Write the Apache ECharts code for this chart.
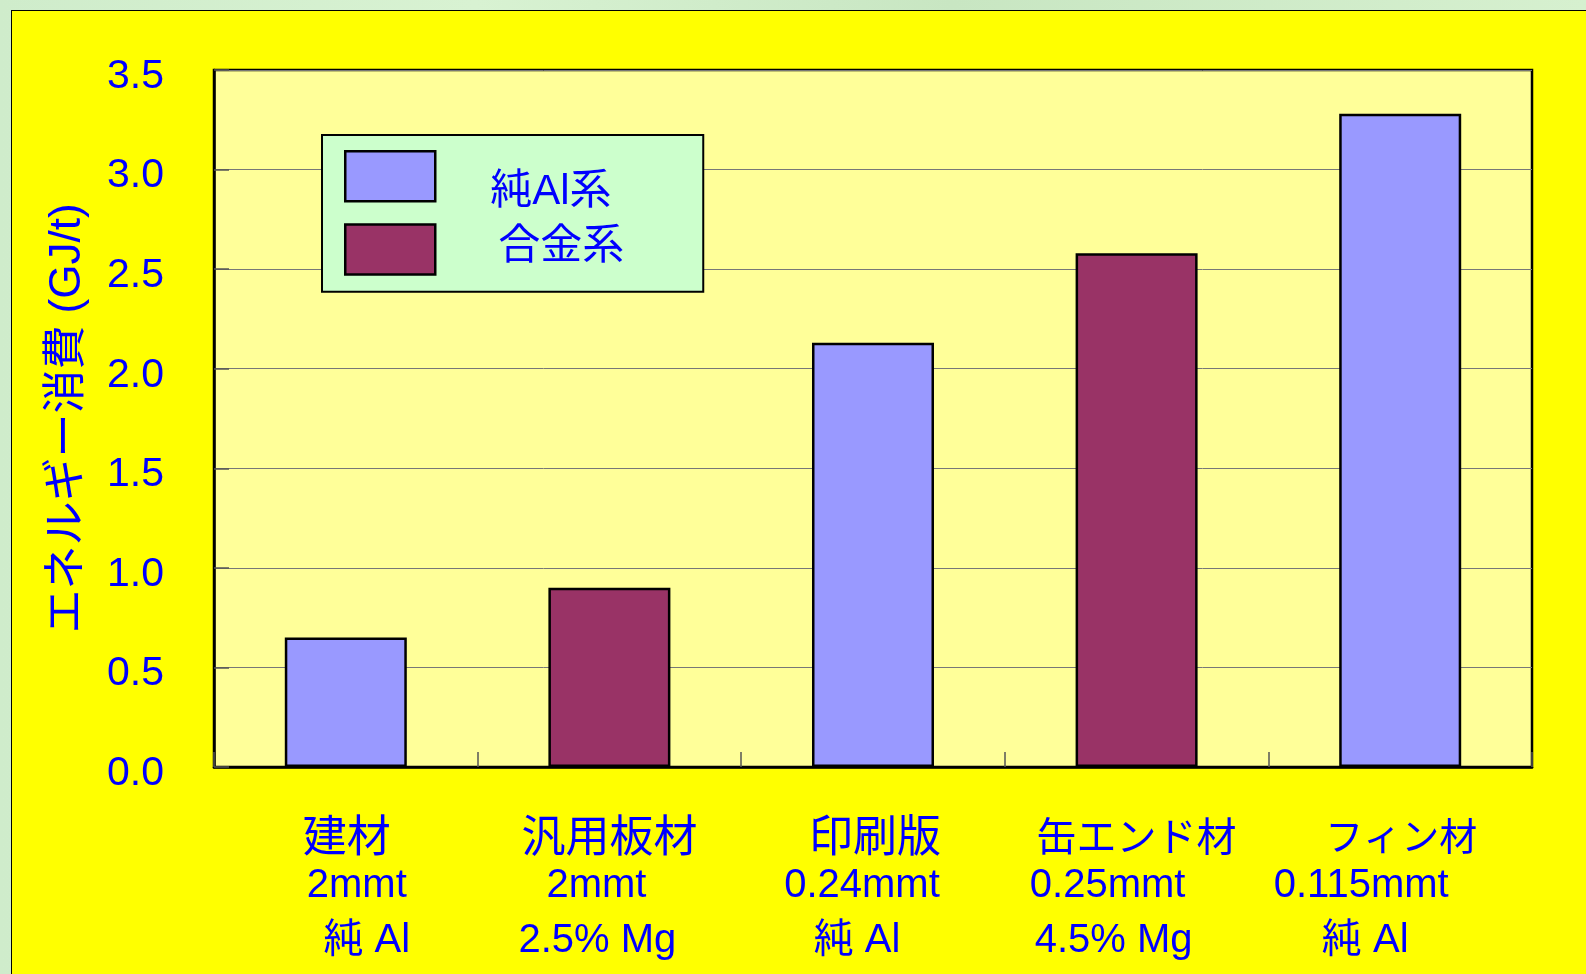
<!DOCTYPE html>
<html>
<head>
<meta charset="utf-8">
<script src="https://cdn.jsdelivr.net/npm/echarts@6/dist/echarts.min.js"></script>
<style>
  html, body { margin: 0; padding: 0; width: 1586px; height: 974px; overflow: hidden; }
  body { background: linear-gradient(90deg, #cfeccb, #d8f2d2 30%, #c8e6c2 60%, #d6f0cf); position: relative; }
  #frame { position: absolute; left: 11px; top: 10px; width: 1575px; height: 964px; background: #FFFF00; border-left: 1px solid #000; border-top: 1px solid #000; box-sizing: border-box; }
  #main { position: absolute; left: 0; top: 0; width: 1586px; height: 974px; }
</style>
</head>
<body>
<div id="frame"></div>
<div id="main"></div>
<script>
// ---- data ----
const categories = ['建材', '汎用板材', '印刷版', '缶エンド材', 'フィン材'];
const thickness = ['2mmt', '2mmt', '0.24mmt', '0.25mmt', '0.115mmt'];
const material = ['純 Al', '2.5% Mg', '純 Al', '4.5% Mg', '純 Al'];
const pureAlValues = [0.65, null, 2.13, null, 3.28];
const alloyValues = [null, 0.90, null, 2.58, null];
const seriesNames = ['純Al系', '合金系'];
const yTicks = [0, 0.5, 1.0, 1.5, 2.0, 2.5, 3.0, 3.5];

// ---- label styling (style only) ----
const lineShift = [[1, 11, 21], [0, -13, -12], [2, -11, -16], [0, -29, -23], [1, -39, -35]];
const firstLineSize = [44, 44, 44, 40, 38];
const lineHeights = [58, 34, 76];

const FONT = "'Liberation Sans', 'Noto Sans CJK JP', sans-serif";
const BLUE = '#0000FF';

const rich = {};
lineShift.forEach((arr, i) => {
  arr.forEach((d, j) => {
    rich['c' + i + 'l' + j] = {
      fontSize: j === 0 ? firstLineSize[i] : 40, fontFamily: FONT, color: BLUE,
      lineHeight: lineHeights[j], align: 'center',
      padding: d >= 0 ? [0, 0, 0, 2 * d] : [0, -2 * d, 0, 0]
    };
  });
});

const legendRich = {
  t0: { fontSize: 42, color: BLUE, fontFamily: FONT, padding: [32, 0, 0, 50] },
  t1: { fontSize: 42, color: BLUE, fontFamily: FONT, padding: [0, 0, 5, 58] }
};

const chart = echarts.init(document.getElementById('main'), null, { renderer: 'canvas' });
chart.setOption({
  backgroundColor: 'transparent',
  animation: false,
  textStyle: { fontFamily: FONT },
  grid: {
    left: 214, top: 70, right: 54, bottom: 207,
    show: true, backgroundColor: '#FFFF99', borderColor: '#000', borderWidth: 2.5,
    containLabel: false
  },
  legend: {
    orient: 'vertical',
    left: 322, top: 135,
    padding: [15, 79, 16, 22],
    backgroundColor: '#CCFFCC',
    borderColor: '#000', borderWidth: 2,
    itemWidth: 90, itemHeight: 50, itemGap: 10,
    icon: 'rect',
    itemStyle: { borderColor: '#000', borderWidth: 2.5 },
    formatter: function (name) {
      return '{t' + seriesNames.indexOf(name) + '|' + name + '}';
    },
    textStyle: { fontSize: 42, color: BLUE, fontFamily: FONT, rich: legendRich },
    data: seriesNames
  },
  xAxis: {
    type: 'category',
    data: categories,
    axisLine: { lineStyle: { color: '#000', width: 2.5 } },
    axisTick: { show: true, inside: true, length: 15, lineStyle: { color: '#555', width: 1.5 } },
    axisLabel: {
      margin: 44,
      interval: 0,
      formatter: function (v, i) {
        return '{c' + i + 'l0|' + categories[i] + '}\n{c' + i + 'l1|' + thickness[i] + '}\n{c' + i + 'l2|' + material[i] + '}';
      },
      rich: rich
    }
  },
  yAxis: {
    type: 'value',
    min: yTicks[0], max: yTicks[yTicks.length - 1], interval: 0.5,
    name: 'エネルギー消費 (GJ/t)',
    nameLocation: 'middle',
    nameGap: 124,
    nameRotate: 90,
    nameTextStyle: { fontSize: 44, color: BLUE, fontFamily: FONT },
    axisLine: { show: true, lineStyle: { color: '#000', width: 2.5 } },
    axisTick: { show: true, inside: true, length: 15, lineStyle: { color: '#555', width: 1.5 } },
    axisLabel: {
      margin: 50,
      formatter: v => '{v|' + v.toFixed(1) + '}',
      rich: { v: { fontSize: 41, color: BLUE, fontFamily: FONT, padding: [13, 0, 0, 0] } }
    },
    splitLine: { show: true, lineStyle: { color: '#777', width: 1 } }
  },
  series: [
    {
      name: seriesNames[0], type: 'bar', data: pureAlValues,
      barWidth: 122, barGap: '-100%',
      itemStyle: { color: '#9999FF', borderColor: '#000', borderWidth: 2.5 }
    },
    {
      name: seriesNames[1], type: 'bar', data: alloyValues,
      barWidth: 122, barGap: '-100%',
      itemStyle: { color: '#993366', borderColor: '#000', borderWidth: 2.5 }
    }
  ]
});
</script>
</body>
</html>
